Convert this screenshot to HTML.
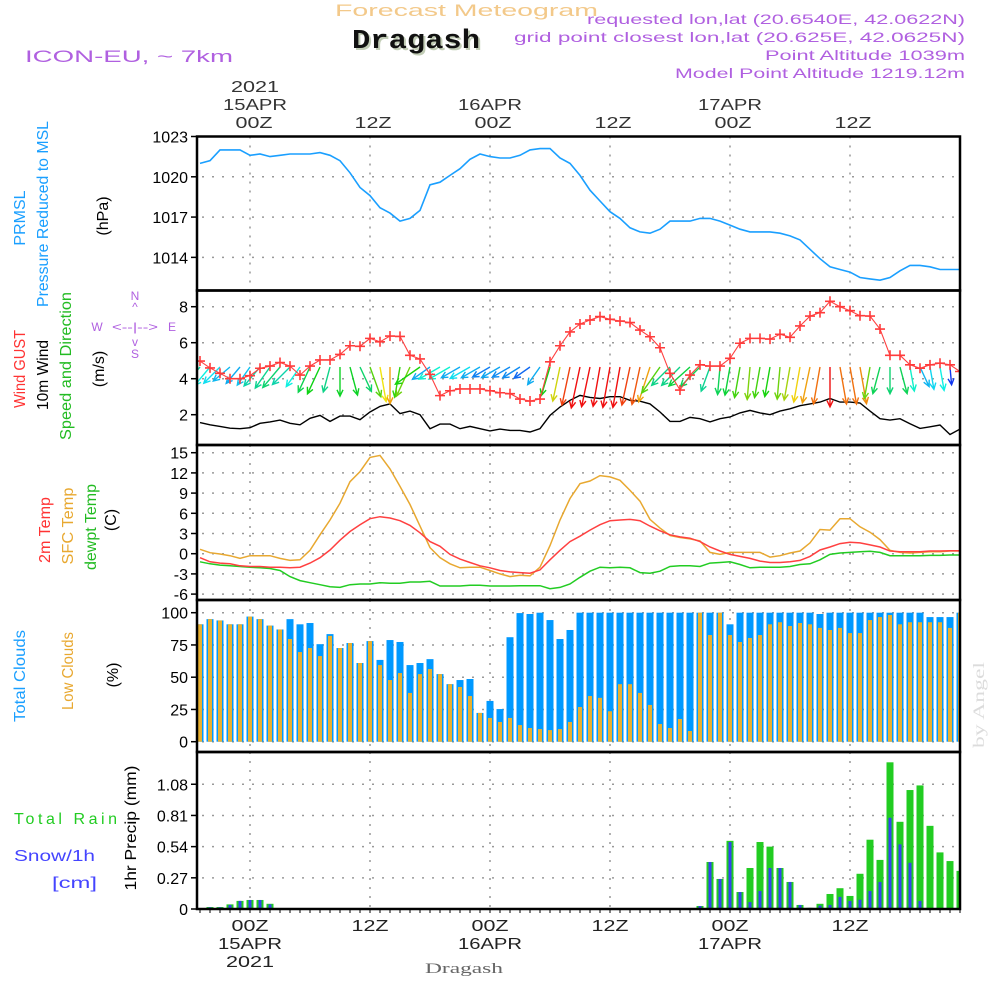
<!DOCTYPE html>
<html><head><meta charset="utf-8"><title>Forecast Meteogram Dragash</title>
<style>
html,body{margin:0;padding:0;background:#fff;}
svg{display:block;}
text{font-family:"Liberation Sans",sans-serif;}
</style></head>
<body>
<svg id="chart" width="1000" height="1000" viewBox="0 0 1000 1000" xmlns="http://www.w3.org/2000/svg">
<rect x="0" y="0" width="1000" height="1000" fill="#fff"/>
<!-- Header -->
<text x="335" y="16" font-size="17" fill="#f3c98a" textLength="263" lengthAdjust="spacingAndGlyphs">Forecast Meteogram</text>
<text x="354" y="50" font-size="27" font-weight="bold" fill="#c2cdb6" style="font-family:'Liberation Mono',monospace" textLength="128" lengthAdjust="spacingAndGlyphs">Dragash</text>
<text x="352" y="48" font-size="27" font-weight="bold" fill="#111" style="font-family:'Liberation Mono',monospace" textLength="128" lengthAdjust="spacingAndGlyphs">Dragash</text>
<text x="25" y="62" font-size="17" fill="#b060e0" textLength="208" lengthAdjust="spacingAndGlyphs">ICON-EU, ~ 7km</text>
<text x="965" y="24" font-size="14" fill="#b060e0" text-anchor="end" textLength="378" lengthAdjust="spacingAndGlyphs">requested lon,lat (20.6540E, 42.0622N)</text>
<text x="965" y="42" font-size="14" fill="#b060e0" text-anchor="end" textLength="451" lengthAdjust="spacingAndGlyphs">grid point closest lon,lat (20.625E, 42.0625N)</text>
<text x="965" y="60" font-size="14" fill="#b060e0" text-anchor="end" textLength="200" lengthAdjust="spacingAndGlyphs">Point Altitude 1039m</text>
<text x="965" y="78" font-size="14" fill="#b060e0" text-anchor="end" textLength="290" lengthAdjust="spacingAndGlyphs">Model Point Altitude 1219.12m</text>

<!-- Left axis titles -->
<text transform="translate(25,218) rotate(-90)" font-size="16" fill="#1a9fff" text-anchor="middle">PRMSL</text>
<text transform="translate(48,214) rotate(-90)" font-size="16" fill="#1a9fff" text-anchor="middle" textLength="186" lengthAdjust="spacingAndGlyphs">Pressure Reduced to MSL</text>
<text transform="translate(108,216) rotate(-90)" font-size="16" fill="#000" text-anchor="middle">(hPa)</text>

<text transform="translate(25,369) rotate(-90)" font-size="16" fill="#ff3333" text-anchor="middle" textLength="78" lengthAdjust="spacingAndGlyphs">Wind GUST</text>
<text transform="translate(48,375) rotate(-90)" font-size="16" fill="#000" text-anchor="middle" textLength="70" lengthAdjust="spacingAndGlyphs">10m Wind</text>
<text transform="translate(71,366) rotate(-90)" font-size="16" fill="#22bb22" text-anchor="middle" textLength="148" lengthAdjust="spacingAndGlyphs">Speed and Direction</text>
<text transform="translate(104,369) rotate(-90)" font-size="16" fill="#000" text-anchor="middle">(m/s)</text>
<g font-size="12" fill="#b060e0" text-anchor="middle">
<text x="135" y="300">N</text><text x="135" y="311">^</text>
<text x="97" y="331">W</text><text x="135" y="331" textLength="46" lengthAdjust="spacingAndGlyphs">&lt;--|--&gt;</text><text x="172" y="331">E</text>
<text x="135" y="346">v</text><text x="135" y="358">S</text>
</g>

<text transform="translate(50,530) rotate(-90)" font-size="16" fill="#ff3333" text-anchor="middle" textLength="66" lengthAdjust="spacingAndGlyphs">2m Temp</text>
<text transform="translate(73,526) rotate(-90)" font-size="16" fill="#e8a830" text-anchor="middle" textLength="77" lengthAdjust="spacingAndGlyphs">SFC Temp</text>
<text transform="translate(96,527) rotate(-90)" font-size="16" fill="#22bb22" text-anchor="middle" textLength="86" lengthAdjust="spacingAndGlyphs">dewpt Temp</text>
<text transform="translate(116,520) rotate(-90)" font-size="16" fill="#000" text-anchor="middle">(C)</text>

<text transform="translate(25,676) rotate(-90)" font-size="16" fill="#1a9fff" text-anchor="middle" textLength="92" lengthAdjust="spacingAndGlyphs">Total Clouds</text>
<text transform="translate(73,671) rotate(-90)" font-size="16" fill="#e8a830" text-anchor="middle" textLength="78" lengthAdjust="spacingAndGlyphs">Low Clouds</text>
<text transform="translate(118,675) rotate(-90)" font-size="16" fill="#000" text-anchor="middle">(%)</text>

<text transform="translate(136,828) rotate(-90)" font-size="16" fill="#000" text-anchor="middle" textLength="125" lengthAdjust="spacingAndGlyphs">1hr Precip (mm)</text>
<text x="14" y="824" font-size="16" fill="#22cc22" textLength="103" lengthAdjust="spacing">Total  Rain</text>
<text x="14" y="861" font-size="16" fill="#4444ff" textLength="81" lengthAdjust="spacingAndGlyphs">Snow/1h</text>
<text x="52" y="888" font-size="16" fill="#4444ff" textLength="45" lengthAdjust="spacingAndGlyphs">[cm]</text>

<text transform="translate(984,705) rotate(-90)" font-size="16" fill="#dcdcdc" text-anchor="middle" style="font-family:'Liberation Serif',serif" textLength="86" lengthAdjust="spacingAndGlyphs">by Angel</text>
<text x="464" y="973" font-size="15" fill="#666" text-anchor="middle" style="font-family:'Liberation Serif',serif" textLength="78" lengthAdjust="spacingAndGlyphs">Dragash</text>

<g id="plot"></g>
</svg>

<script>
// ---- data (hourly, from 19Z 14APR = hour -5 to 23Z 17APR = hour 71) ----
const hours = Array.from({length: 77}, (_, i) => i - 5);
const pressure = [1021.0,1021.2,1022.0,1022.0,1022.0,
1021.6,1021.7,1021.5,1021.6,1021.7,1021.7,1021.7,1021.8,1021.6,1021.2,
1020.3,1019.2,1018.6,1017.7,1017.3,1016.7,1016.9,1017.5,1019.4,1019.6,
1020.1,1020.6,1021.3,1021.7,1021.5,1021.4,1021.4,1021.6,1022.0,1022.1,
1022.1,1021.4,1021.0,1020.1,1019.0,1018.2,1017.4,1016.9,1016.2,1015.9,
1015.8,1016.1,1016.7,1016.7,1016.7,1016.9,1016.9,1016.7,1016.4,1016.1,
1015.9,1015.9,1015.9,1015.8,1015.6,1015.3,1014.6,1013.9,1013.3,1013.1,
1012.9,1012.5,1012.4,1012.3,1012.5,1013.0,1013.4,1013.4,1013.3,1013.1,
1013.1,1013.1];
const windGust = [4.98,4.6,4.3,4.0,4.0,
4.17,4.58,4.7,4.9,4.7,4.2,4.7,5.04,5.04,5.35,
5.83,5.8,6.24,6.05,6.37,6.35,5.3,5.1,4.24,3.06,
3.33,3.43,3.43,3.43,3.33,3.22,3.17,2.87,2.76,2.87,
4.94,5.83,6.6,7.04,7.26,7.45,7.3,7.2,7.12,6.7,
6.33,5.72,4.3,3.37,4.2,4.77,4.7,4.7,5.13,5.97,
6.24,6.24,6.2,6.47,6.3,6.93,7.48,7.67,8.3,8.0,
7.78,7.5,7.48,6.76,5.3,5.3,4.77,4.58,4.77,4.86,
4.77,4.4];
const windSpeed = [1.56,1.44,1.35,1.25,1.22,
1.28,1.52,1.6,1.7,1.52,1.44,1.8,1.96,1.63,1.92,
1.92,1.72,2.15,2.46,2.6,2.06,2.2,2.0,1.22,1.48,
1.48,1.22,1.35,1.22,1.1,1.2,1.13,1.13,1.04,1.22,
1.96,2.43,2.8,3.07,2.96,2.9,3.0,3.0,2.8,2.75,
2.6,2.15,1.63,1.63,1.85,1.78,1.6,1.78,1.87,2.1,
2.24,2.1,2.0,2.2,2.33,2.5,2.6,2.7,2.9,2.7,
2.7,2.65,2.2,1.78,1.7,1.78,1.5,1.24,1.33,1.43,
0.9,1.2];
// direction the arrow points (degrees clockwise from north)
const windDir = [220,220,225,230,220,
215,220,215,220,225,215,205,205,195,180,
165,155,160,170,180,190,205,235,235,240,
240,240,240,240,240,240,240,238,235,215,
197,192,192,192,192,190,190,190,192,192,
198,215,225,225,228,225,200,185,190,190,
185,190,190,185,190,190,192,190,180,170,
170,170,190,195,180,165,170,155,170,170,
175,120];
const temp2m = [-0.6,-1.2,-1.4,-1.5,-1.8,
-1.9,-1.9,-2.0,-2.0,-2.1,-2.0,-1.4,-0.6,0.55,2.0,
3.3,4.3,5.2,5.5,5.3,4.9,4.2,3.1,1.8,1.1,
-0.1,-0.8,-1.3,-1.8,-2.1,-2.5,-2.7,-2.8,-2.9,-2.4,
-0.9,0.5,1.8,2.6,3.5,4.3,4.9,5.0,5.1,4.9,
4.1,3.4,2.8,2.5,2.3,1.8,1.0,0.4,-0.1,-0.4,
-0.7,-1.1,-1.3,-1.3,-1.2,-1.0,-0.4,0.55,1.0,1.5,
1.7,1.6,1.3,1.0,0.4,0.3,0.3,0.3,0.4,0.4,
0.45,0.45];
const tempSfc = [0.65,0.15,-0.05,-0.3,-0.7,
-0.3,-0.3,-0.3,-0.7,-1.0,-0.9,0.5,2.8,5.0,7.5,
10.7,12.2,14.3,14.6,12.6,10.0,7.3,4.1,0.9,-0.6,
-1.5,-2.1,-2.0,-2.0,-2.5,-3.0,-3.4,-3.2,-3.3,-2.0,
1.2,5.0,8.2,10.4,10.8,11.6,11.4,10.9,9.4,7.8,
5.1,3.8,2.7,2.4,2.2,1.9,0.2,-0.1,0.2,0.2,
0.2,0.2,-0.5,-0.3,0.1,0.4,1.6,3.6,3.5,5.2,
5.2,4.0,3.2,2.1,0.5,0.2,0.1,0.2,0.3,0.3,
0.4,0.4];
const dewpoint = [-1.2,-1.5,-1.7,-1.8,-1.9,
-2.0,-2.1,-2.2,-2.5,-3.4,-4.0,-4.3,-4.6,-4.9,-5.0,
-4.6,-4.5,-4.5,-4.3,-4.4,-4.4,-4.2,-4.2,-4.1,-4.8,
-4.8,-4.8,-4.7,-4.7,-4.8,-4.8,-4.8,-4.75,-4.75,-4.75,
-5.2,-5.0,-4.5,-3.5,-2.6,-2.0,-2.1,-2.0,-2.1,-2.8,
-2.9,-2.6,-1.9,-1.8,-1.8,-1.9,-1.4,-1.3,-1.2,-1.6,
-2.1,-2.0,-2.0,-2.0,-1.9,-1.6,-1.5,-0.9,-0.1,0.1,
0.2,0.3,0.35,0.2,-0.3,-0.3,-0.3,-0.3,-0.25,-0.25,
-0.2,-0.2];
const totalClouds = [91,95,94,91,91,
97,95,90,87,95,91,92,75.6,83.4,72.6,
76.5,61,78,63.4,78.8,77.3,59.4,61,64,52.4,
44.6,47.8,48.6,22.3,31.6,25.3,81,99.7,99,100,
94.3,79.6,86.6,100,100,100,100,100,100,100,
100,100,100,100,100,100,100,100,91,100,
100,100,100,100,100,100,100,99,100,100,
100,100,100,100,100,100,100,100,96.6,96.6,
96.6,100];
const lowClouds = [91,95,94,91,91,
97,95,90,87,79.6,69.5,72.6,66.4,82,72.6,
76.5,61,78,59.4,47.8,53.2,37.8,52.4,56.3,52.4,
44.6,42.4,35.4,22.3,18.4,15.3,18.4,12.9,10.6,9.8,
9,9.8,15.3,26.9,35.4,34,23.6,44.6,44.6,37.8,
28.5,13.7,10.6,17.6,8.3,100,82.7,100,82.7,77.3,
80.4,82.7,91,92.6,89.7,92,91,88.2,86.6,88.2,
84.2,84.2,94.3,96.6,98.2,91,92.6,92.6,92.6,92.6,
88.2,100];
const totalRain = [0,0.017,0.017,0.04,0.07,
0.078,0.078,0.045,0.003,0,0,0,0,0,0,
0,0,0,0,0,0,0,0,0,0,
0,0,0,0,0,0,0,0,0,0,
0,0,0,0,0,0,0,0,0,0,
0,0,0,0,0,0.026,0.407,0.26,0.59,0.147,
0.355,0.58,0.54,0.355,0.234,0.035,0.01,0.045,0.13,0.18,
0.113,0.305,0.6,0.425,1.27,0.755,1.03,1.07,0.72,0.49,
0.415,0.33];
const snow = [0,0.015,0.015,0.035,0.07,
0.078,0.078,0.04,0.003,0,0,0,0,0,0,
0,0,0,0,0,0,0,0,0,0,
0,0,0,0,0,0,0,0,0,0,
0,0,0,0,0,0,0,0,0,0,
0,0,0,0,0,0.026,0.407,0.26,0.58,0.147,
0.06,0.156,0.355,0.355,0.234,0.035,0.01,0.03,0.035,0.105,
0.07,0.08,0.156,0.234,0.79,0.56,0.4,0.07,0,0,
0,0];
const pressureTicks = [1023,1020,1017,1014];
const windTicks = [8,6,4,2];
const tempTicks = [15,12,9,6,3,0,-3,-6];
const cloudTicks = [100,75,50,25,0];
const precipTicks = [1.08,0.81,0.54,0.27,0];
const precipTickLabels = ["1.08","0.81","0.54","0.27","0"];
const timeTickHours = [0,12,24,36,48,60];
const timeTickLabels = ["00Z","12Z","00Z","12Z","00Z","12Z"];
const dateLabels = ["15APR","","16APR","","17APR",""];

// ---- axis functions ----
const LEFT = 197, RIGHT = 960;
const X = h => 250 + 10 * h;
const yP = p => 136.5 + (1023 - p) * 13.43;
const yW = s => 306.7 + (8 - s) * 18;
const yT = t => 553.7 - t * 6.733;
const yC = c => 741.7 - c * 1.29;
const yR = r => 909 - r * 115.5;
const panels = [
  {name:'pressure-panel', top:136.5, bottom:290.5},
  {name:'wind-panel', top:290.5, bottom:445},
  {name:'temperature-panel', top:445, bottom:600},
  {name:'clouds-panel', top:600, bottom:752},
  {name:'precip-panel', top:752, bottom:909}
];

const NS = 'http://www.w3.org/2000/svg';
const root = document.getElementById('plot');
function mk(tag, attrs, parent) {
  const el = document.createElementNS(NS, tag);
  for (const k in attrs) el.setAttribute(k, attrs[k]);
  (parent || root).appendChild(el);
  return el;
}

const defs = mk('defs', {});
panels.forEach((p, i) => {
  const cp = mk('clipPath', {id: 'clip' + i}, defs);
  mk('rect', {x: LEFT, y: p.top, width: RIGHT - LEFT, height: p.bottom - p.top}, cp);
});

panels.forEach((p, i) => {
  timeTickHours.forEach(h => {
    const g = mk('line', {x1: X(h), x2: X(h), y1: p.top, y2: p.bottom, stroke: '#999', 'stroke-width': 1.5, 'stroke-dasharray': '2 7'});
    
    
  });
});
function hgrid(ticks, fy, labels, panelName) {
  ticks.forEach((t, i) => {
    const y = fy(t);
    const g = mk('line', {x1: LEFT + 5, x2: RIGHT, y1: y, y2: y, stroke: '#999', 'stroke-width': 1.5, 'stroke-dasharray': '2 8'});
    
    
    const tk = mk('line', {x1: LEFT - 6, x2: LEFT, y1: y, y2: y, stroke: '#000', 'stroke-width': 1.5});
    
    
    const tx = mk('text', {x: LEFT - 9, y: y + 6, 'font-size': 16, 'text-anchor': 'end', fill: '#000'});
    tx.textContent = labels ? labels[i] : String(t);
    
    
  });
}
hgrid(pressureTicks, yP, null, 'pressure');
hgrid(windTicks, yW, null, 'wind');
hgrid(tempTicks, yT, null, 'temperature');
hgrid(cloudTicks, yC, null, 'clouds');
hgrid(precipTicks, yR, precipTickLabels, 'precip');

hours.forEach(h => {
  const t = mk('line', {x1: X(h), x2: X(h), y1: 909, y2: 913, stroke: '#000', 'stroke-width': 1});
  
  
});

function linePath(vals, fy) {
  return vals.map((v, i) => (i ? 'L' : 'M') + X(hours[i]).toFixed(1) + ' ' + fy(v).toFixed(1)).join(' ');
}

const gP = mk('g', {'clip-path': 'url(#clip0)'});
const pl = mk('path', {d: linePath(pressure, yP), fill: 'none', stroke: '#1a9fff', 'stroke-width': 1.6}, gP);



const gW = mk('g', {'clip-path': 'url(#clip1)'});
const ws = mk('path', {d: linePath(windSpeed, yW), fill: 'none', stroke: '#000', 'stroke-width': 1.4}, gW);


function speedHue(s) {
  let hue = s <= 1.9 ? 130 + (1.9 - s) * 100 : 130 - (s - 1.9) * 130;
  return Math.max(0, Math.min(235, hue));
}
windDir.forEach((d, i) => {
  const s = windSpeed[i];
  const L = 8 + 11 * s;
  const th = d * Math.PI / 180;
  const x0 = X(hours[i]), y0 = 367;
  const x1 = x0 + L * Math.sin(th), y1 = y0 - L * Math.cos(th);
  const hue = speedHue(s);
  const col = 'hsl(' + hue.toFixed(0) + ',88%,' + (hue > 60 && hue < 170 ? 44 : 50) + '%)';
  const back = Math.atan2(y0 - y1, x0 - x1);
  const a1 = back + 0.45, a2 = back - 0.45;
  const p = 'M' + x0 + ' ' + y0 + ' L' + x1.toFixed(1) + ' ' + y1.toFixed(1) +
    ' M' + (x1 + 7 * Math.cos(a1)).toFixed(1) + ' ' + (y1 + 7 * Math.sin(a1)).toFixed(1) + ' L' + x1.toFixed(1) + ' ' + y1.toFixed(1) +
    ' L' + (x1 + 7 * Math.cos(a2)).toFixed(1) + ' ' + (y1 + 7 * Math.sin(a2)).toFixed(1);
  const ar = mk('path', {d: p, fill: 'none', stroke: col, 'stroke-width': 1.4}, gW);
  
  
});
const gl = mk('path', {d: linePath(windGust, yW), fill: 'none', stroke: '#ff4040', 'stroke-width': 1.1}, gW);


windGust.forEach((v, i) => {
  const x = X(hours[i]), y = yW(v);
  const m = mk('path', {d: 'M' + (x - 5) + ' ' + y + ' L' + (x + 5) + ' ' + y + ' M' + x + ' ' + (y - 5) + ' L' + x + ' ' + (y + 5), stroke: '#ff3b3b', 'stroke-width': 1.6}, gW);
  
  
});

const gT = mk('g', {'clip-path': 'url(#clip2)'});
const ld = mk('path', {d: linePath(dewpoint, yT), fill: 'none', stroke: '#22cc22', 'stroke-width': 1.5}, gT);


const ls = mk('path', {d: linePath(tempSfc, yT), fill: 'none', stroke: '#e8a830', 'stroke-width': 1.5}, gT);


const lt = mk('path', {d: linePath(temp2m, yT), fill: 'none', stroke: '#ff4040', 'stroke-width': 1.5}, gT);



const gC = mk('g', {'clip-path': 'url(#clip3)'});
totalClouds.forEach((v, i) => {
  const x = X(hours[i]);
  const b = mk('rect', {x: x - 3.5, y: yC(v), width: 7, height: yC(0) - yC(v), fill: '#0099ff'}, gC);
  
  
});
lowClouds.forEach((v, i) => {
  const x = X(hours[i]);
  const b = mk('rect', {x: x - 2, y: yC(v), width: 4, height: yC(0) - yC(v), fill: '#e8b030'}, gC);
  
  
});

const gR = mk('g', {'clip-path': 'url(#clip4)'});
totalRain.forEach((v, i) => {
  if (v <= 0) return;
  const x = X(hours[i]);
  const b = mk('rect', {x: x - 3.5, y: yR(v), width: 7, height: yR(0) - yR(v), fill: '#22cc22'}, gR);
  
  
});
snow.forEach((v, i) => {
  if (v <= 0) return;
  const x = X(hours[i]);
  const b = mk('rect', {x: x - 1.5, y: yR(v), width: 3, height: yR(0) - yR(v), fill: '#3344ee'}, gR);
  
  
});

panels.forEach(p => {
  const r = mk('rect', {x: LEFT, y: p.top, width: RIGHT - LEFT, height: p.bottom - p.top, fill: 'none', stroke: '#000', 'stroke-width': 2.5});
  
  
});

timeTickHours.forEach((h, i) => {
  const x = X(h);
  const top = mk('text', {x: x + (i === 0 ? 4 : 3), y: 128, 'font-size': 16, 'text-anchor': 'middle', fill: '#333', textLength: 37, lengthAdjust: 'spacingAndGlyphs'});
  top.textContent = timeTickLabels[i];
  
  
  const bot = mk('text', {x: x, y: 931, 'font-size': 16, 'text-anchor': 'middle', fill: '#222', textLength: 37, lengthAdjust: 'spacingAndGlyphs'});
  bot.textContent = timeTickLabels[i];
  
  
  if (dateLabels[i]) {
    const dt = mk('text', {x: x + (i === 0 ? 5 : 0), y: 110, 'font-size': 16, 'text-anchor': 'middle', fill: '#333', textLength: 64, lengthAdjust: 'spacingAndGlyphs'});
    dt.textContent = dateLabels[i];
    
    
    const db = mk('text', {x: x, y: 949, 'font-size': 16, 'text-anchor': 'middle', fill: '#222', textLength: 64, lengthAdjust: 'spacingAndGlyphs'});
    db.textContent = dateLabels[i];
    
    
  }
});
const yrTop = mk('text', {x: 255, y: 92, 'font-size': 16, 'text-anchor': 'middle', fill: '#333', textLength: 48, lengthAdjust: 'spacingAndGlyphs'});
yrTop.textContent = '2021';


const yrBot = mk('text', {x: 250, y: 967, 'font-size': 16, 'text-anchor': 'middle', fill: '#222', textLength: 48, lengthAdjust: 'spacingAndGlyphs'});
yrBot.textContent = '2021';


</script>
</body></html>
